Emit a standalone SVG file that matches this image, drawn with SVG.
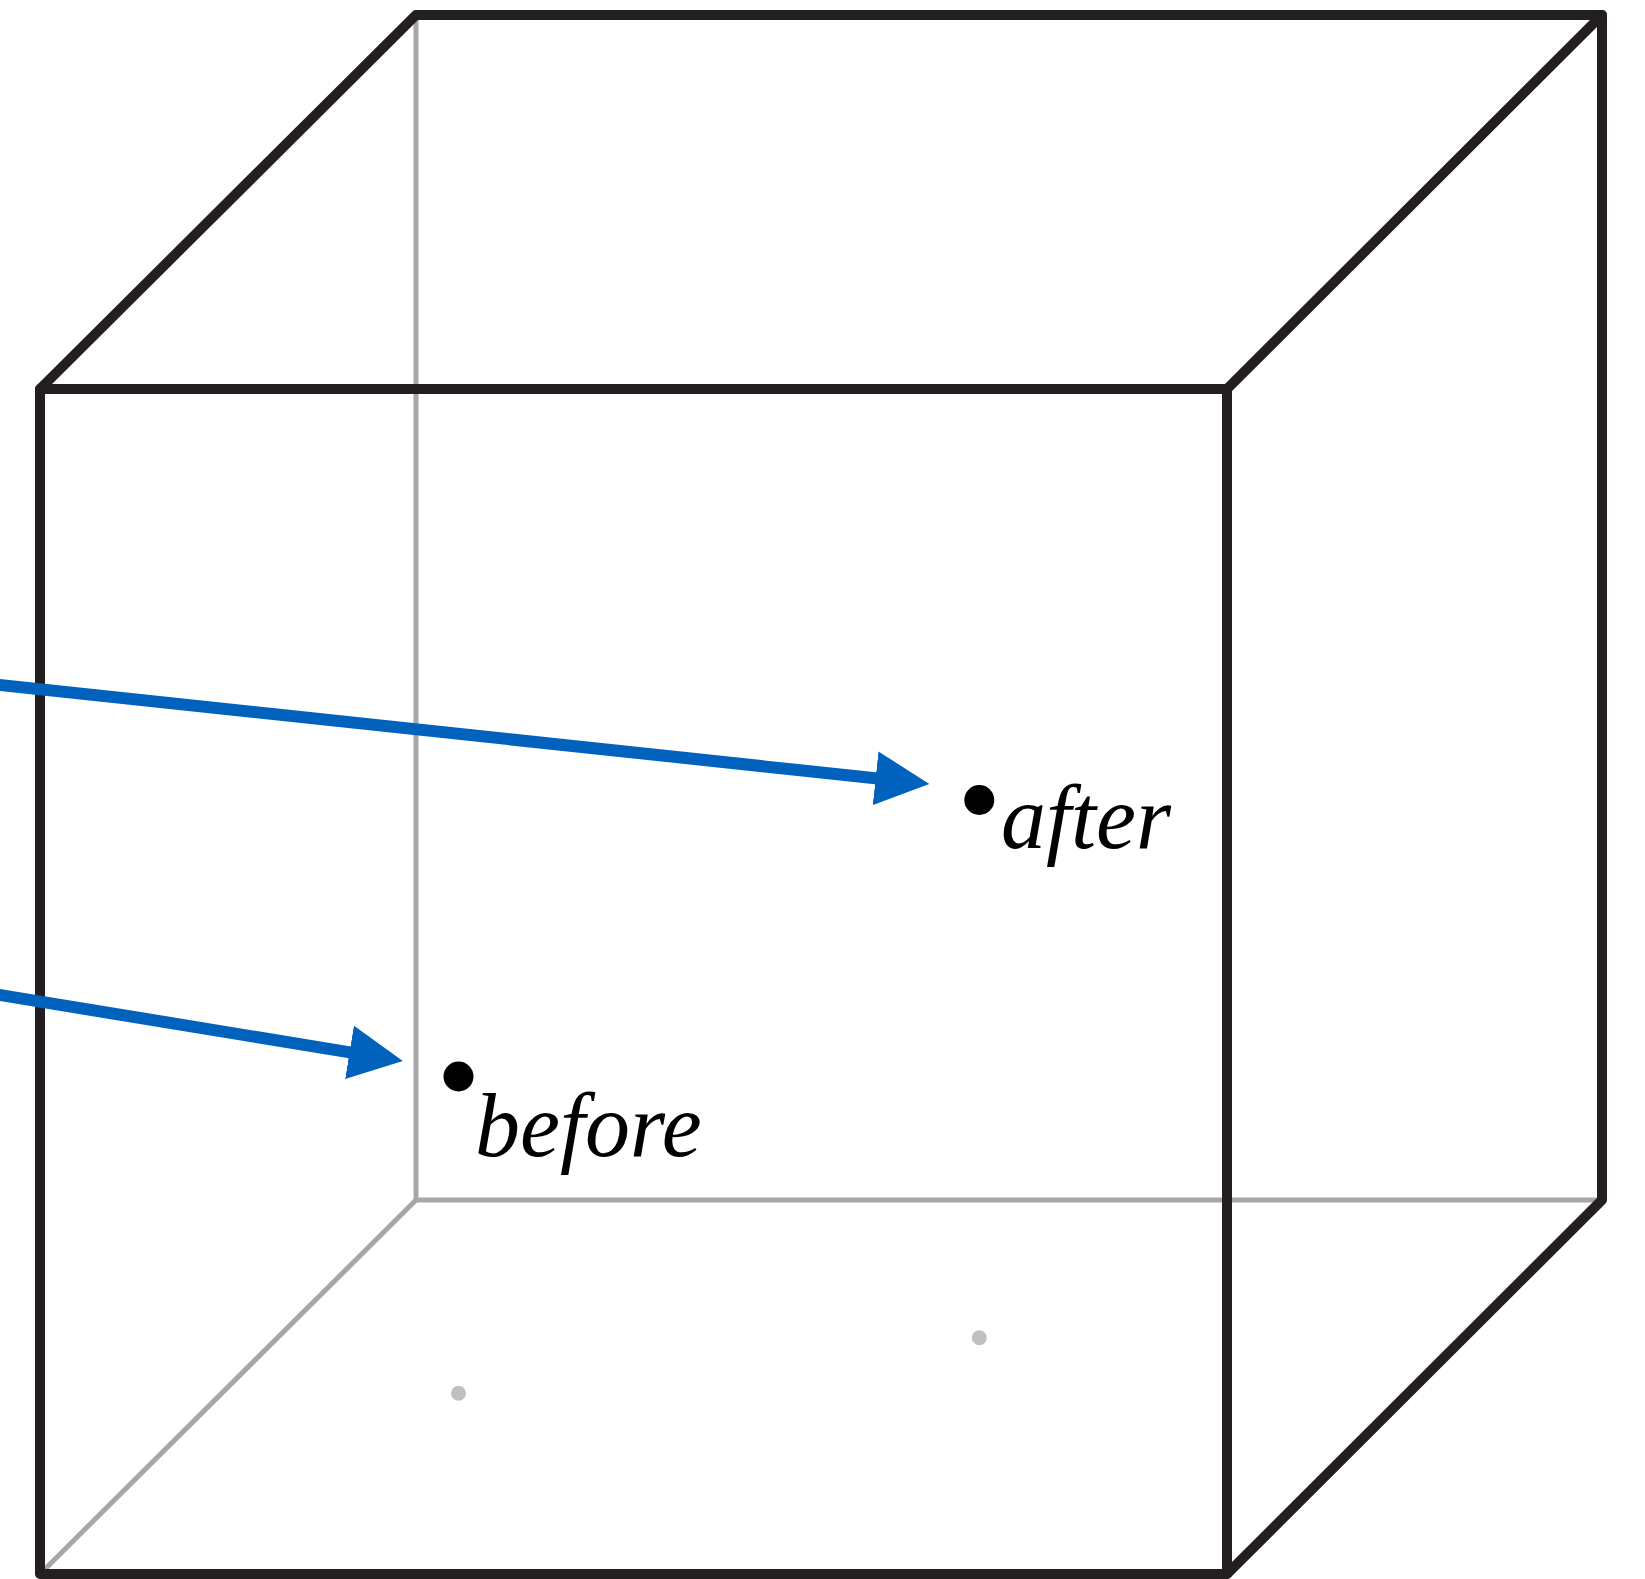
<svg xmlns="http://www.w3.org/2000/svg" width="1645" height="1579" viewBox="0 0 1645 1579">
  <style>
    .hidden { stroke: #a7a7a7; stroke-width: 5; fill: none; stroke-linecap: round; }
    .edge { stroke: #231f20; stroke-width: 10; fill: none; stroke-linecap: round; stroke-linejoin: round; }
    .arrow { stroke: #0062bd; stroke-width: 12; fill: none; }
    .label { font-family: "Liberation Serif", "Times New Roman", serif; font-style: italic; font-size: 90px; fill: #000; }
  </style>
  <defs>
    <marker id="head" markerUnits="userSpaceOnUse" markerWidth="56" markerHeight="54" viewBox="0 0 56 54" refX="2" refY="27" orient="auto">
      <path d="M0,0 L54,27 L0,54 z" fill="#0062bd"/>
    </marker>
  </defs>
  <rect width="1645" height="1579" fill="#ffffff"/>
  <g id="cube-hidden">
    <line class="hidden" x1="416" y1="15" x2="416" y2="1200"/>
    <line class="hidden" x1="416" y1="1200" x2="1602" y2="1200"/>
    <line class="hidden" x1="416" y1="1200" x2="40" y2="1574"/>
  </g>
  <g id="shadow-points">
    <circle cx="458.5" cy="1393.3" r="7.5" fill="#c0c0c0"/>
    <circle cx="979.3" cy="1337.7" r="7.5" fill="#c0c0c0"/>
  </g>
  <g id="cube">
    <rect class="edge" x="40" y="389" width="1187" height="1185"/>
    <polyline class="edge" points="40,389 416,15 1602,15 1602,1200 1227,1574"/>
    <line class="edge" x1="1227" y1="389" x2="1602" y2="15"/>
  </g>
  <g id="connectors">
    <line class="arrow" x1="-10" y1="683.9" x2="877.6" y2="778.5" marker-end="url(#head)"/>
    <line class="arrow" x1="-10" y1="993.4" x2="351.5" y2="1052.6" marker-end="url(#head)"/>
  </g>
  <g id="node-after">
    <circle cx="979.3" cy="800" r="15" fill="#000"/>
    <text class="label" x="1001" y="848">after</text>
  </g>
  <g id="node-before">
    <circle cx="458.5" cy="1076.5" r="15" fill="#000"/>
    <text class="label" x="475" y="1156">before</text>
  </g>
</svg>
